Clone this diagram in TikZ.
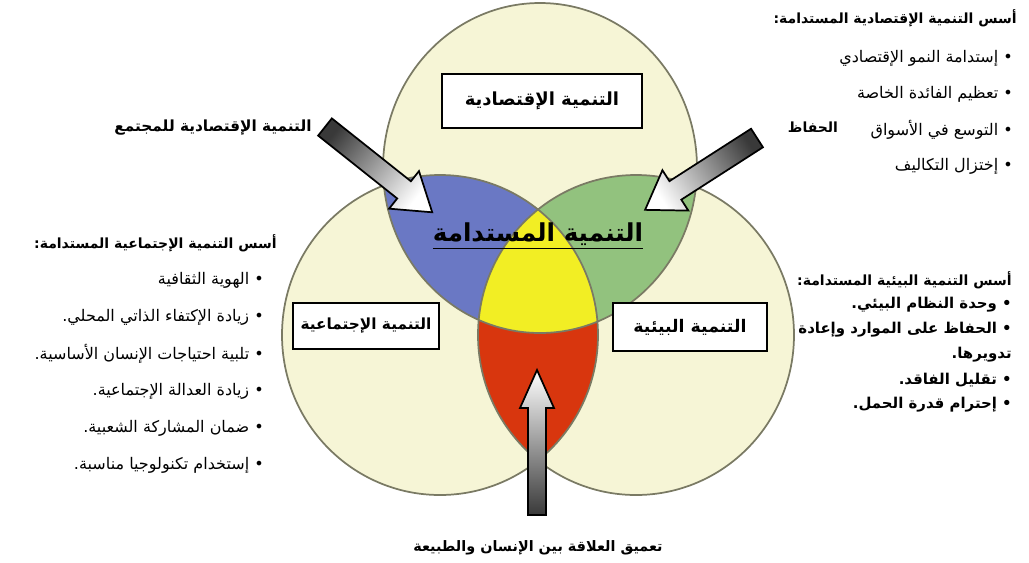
\documentclass[tikz,border=0pt]{standalone}
\usepackage{fontspec}
\newfontfamily\arabicfont[Script=Arabic]{DejaVu Sans}
\TeXXeTstate=1
\usetikzlibrary{positioning}

\definecolor{creamfill}{RGB}{246,245,214}
\definecolor{rimgray}{RGB}{122,122,100}
\definecolor{econblue}{RGB}{106,120,196}
\definecolor{envgreen}{RGB}{146,194,126}
\definecolor{coreyellow}{RGB}{242,238,36}
\definecolor{socred}{RGB}{216,54,14}

\begin{document}
\begin{tikzpicture}[x=0.75pt, y=-0.75pt,
  rim/.style={draw=rimgray, line width=1.3pt},
  arrowbody/.style={draw=black, line width=1.3pt, line join=miter, top color=white, bottom color=gray!45!black},
  areabox/.style={draw=black, line width=1.4pt, fill=white, inner sep=0pt, font=\arabicfont\bfseries\fontsize{13}{15}\selectfont},
  headtext/.style={font=\arabicfont\bfseries\fontsize{10.5}{13}\selectfont, inner sep=0pt, anchor=east},
  itemtext/.style={font=\arabicfont\fontsize{12}{14}\selectfont, inner sep=0pt, anchor=east},
  boldline/.style={font=\arabicfont\bfseries\fontsize{11.2}{13}\selectfont, inner sep=0pt, anchor=east},
]
\useasboundingbox (0,0) rectangle (1029,562);
% the three circles
\def\topring{(540,168) ellipse [x radius=157, y radius=165]}
\def\leftring{(440,335) ellipse [x radius=158, y radius=160]}
\def\rightring{(636,335) ellipse [x radius=158, y radius=160]}
\fill[creamfill] \topring;
\fill[creamfill] \leftring;
\fill[creamfill] \rightring;
% overlaps
\begin{scope}
  \clip \topring;
  \fill[econblue] \leftring;
  \fill[envgreen] \rightring;
\end{scope}
\begin{scope}
  \clip \leftring;
  \fill[socred] \rightring;
\end{scope}
\begin{scope}
  \clip \topring;
  \clip \leftring;
  \fill[coreyellow] \rightring;
\end{scope}
\draw[rim] \topring;
\draw[rim] \leftring;
\draw[rim] \rightring;

% boxes in the circles
\node[areabox, font=\arabicfont\bfseries\fontsize{13.5}{15}\selectfont, minimum width=150pt, minimum height=40pt] (econbox) at (542,101) {\beginR التنمية الإقتصادية\endR};
\node[areabox, font=\arabicfont\bfseries\fontsize{11.5}{14}\selectfont, minimum width=110pt, minimum height=35pt] (socbox) at (366,326) {\beginR التنمية الإجتماعية\endR};
\node[areabox, minimum width=115pt, minimum height=36pt] (envbox) at (690,327) {\beginR التنمية البيئية\endR};
\node[font=\arabicfont\bfseries\fontsize{18.5}{22}\selectfont, inner sep=0pt] (core) at (538,236) {\underline{\beginR التنمية المستدامة\endR}};

% block arrows: tail x/y, angle, length, half shaft, half head, head length
\foreach \tx/\ty/\ang/\len/\sw/\hw/\hl in {325/127/-38.5/137/11/24/36, 757/138/-147.3/133/11/24/36, 537/515/90/145/9/17/38}
  \draw[arrowbody, shading angle=\ang-90, shift={(\tx,\ty)}, rotate=\ang]
    (0,-\sw) -- ({\len-\hl},-\sw) -- ({\len-\hl},-\hw) -- (\len,0) -- ({\len-\hl},\hw) -- ({\len-\hl},\sw) -- (0,\sw) -- cycle;

% labels at the arrows
\node[headtext, font=\arabicfont\bfseries\fontsize{11.5}{13}\selectfont, anchor=center] (societal) at (213,128) {\beginR التنمية الإقتصادية للمجتمع\endR};
\node[headtext, anchor=center] (keep) at (813,127) {\beginR الحفاظ\endR};
\node[headtext, font=\arabicfont\bfseries\fontsize{10.8}{13}\selectfont, anchor=center] (relation) at (538,548) {\beginR تعميق العلاقة بين الإنسان والطبيعة\endR};

% economic list
\node[headtext] (econhead) at (1017,18) {\beginR أسس التنمية الإقتصادية المستدامة:\endR};
\foreach \txt [count=\i] in {إستدامة النمو الإقتصادي, تعظيم الفائدة الخاصة, التوسع في الأسواق, إختزال التكاليف}
  \node[itemtext] (econ\i) at (1013,22+36*\i) {\beginR • \txt\endR};

% social list
\node[headtext] (sochead) at (277,243) {\beginR أسس التنمية الإجتماعية المستدامة:\endR};
\foreach \txt [count=\i] in {الهوية الثقافية, زيادة الإكتفاء الذاتي المحلي., تلبية احتياجات الإنسان الأساسية., زيادة العدالة الإجتماعية., ضمان المشاركة الشعبية., إستخدام تكنولوجيا مناسبة.}
  \node[itemtext] (soc\i) at (264,243+37*\i) {\beginR • \txt\endR};

% environmental list
\node[headtext] (envhead) at (1012,280) {\beginR أسس التنمية البيئية المستدامة:\endR};
\foreach \txt [count=\i] in {• وحدة النظام البيئي., • الحفاظ على الموارد وإعادة, تدويرها., • تقليل الفاقد., • إحترام قدرة الحمل.}
  \node[boldline] (env\i) at (1012,280+25*\i) {\beginR \txt\endR};
\end{tikzpicture}
\end{document}
